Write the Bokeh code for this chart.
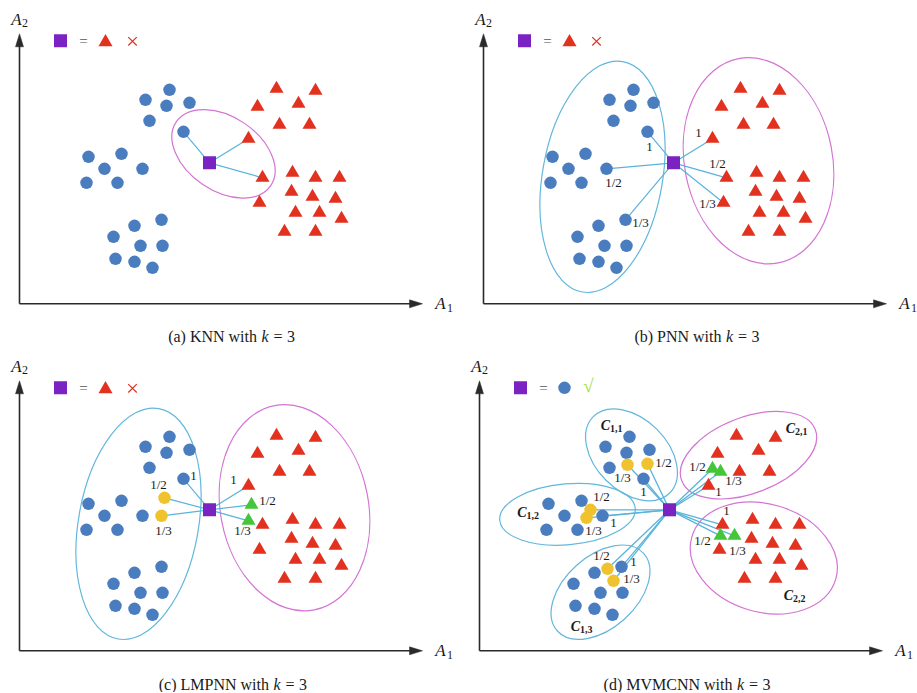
import math
from bokeh.plotting import figure
from bokeh.layouts import row, column
from bokeh.models import Range1d, ColumnDataSource
from bokeh.core.properties import value
from bokeh.embed import file_html
from bokeh.resources import INLINE

# ---------------- data (axis units, shared by all panels) ----------------
blue_x = [150, 126, 147, 170, 130, 164, 69, 102, 85, 123, 67, 98, 142, 115, 94, 121, 143, 96, 115, 133]
blue_y = [214, 204, 198, 201, 183, 172, 147, 150, 135, 135, 121, 121, 84, 78, 67, 58, 58, 45, 42, 36]
red_x = [257, 296, 238, 279, 260, 290, 229, 273, 296, 320, 243, 272, 293, 316, 240, 276, 300, 322, 265, 296]
red_y = [215, 213, 197, 200, 179, 179, 165, 131, 126, 126, 126, 112, 107, 105, 101, 91, 91, 85, 72, 72]
query_x = 190
query_y = 141

# panel (a) KNN
a_blue_nn = [5]
a_red_nn = [6, 10]
# panel (b) PNN
b_blue_nn = [5, 9, 12]
b_red_nn = [6, 10, 14]
b_lab_x = [166, 130, 157, 215, 234, 224]
b_lab_y = [157, 121, 81, 171, 140, 100]
b_lab_text = ["1", "1/2", "1/3", "1", "1/2", "1/3"]
# panel (c) LMPNN
c_blue_nn = [5]
c_red_nn = [6]
c_yellow_x = [145, 142]
c_yellow_y = [153, 135]
c_green_x = [232, 229]
c_green_y = [146, 130]
c_lab_x = [174, 139, 144, 214, 248, 223]
c_lab_y = [175, 166, 120, 171, 150, 120]
c_lab_text = ["1", "1/2", "1/3", "1", "1/2", "1/3"]
# panel (d) MVMCNN
d_blue_nn = [5, 9, 12]
d_red_nn = [6, 10]
d_yellow_x = [148, 168, 111, 107, 128, 134]
d_yellow_y = [186, 187, 141, 133, 82, 70]
d_green_x = [233, 241, 241, 255]
d_green_y = [182, 179, 115, 115]
d_lab_x = [184, 143, 164, 122, 114, 134, 122, 154, 152, 218, 254, 239, 247, 223, 258]
d_lab_y = [188, 173, 159, 154, 120, 128, 95, 89, 72, 184, 170, 159, 140, 110, 100]
d_lab_text = ["1/2", "1/3", "1", "1/2", "1/3", "1", "1/2", "1", "1/3",
              "1/2", "1/3", "1", "1", "1/2", "1/3"]
d_cluster_sub = ["1,1", "1,2", "1,3", "2,1", "2,2"]
d_c_x = [126, 42.5, 96, 311, 309]
d_c_y = [225, 138, 24, 222, 55]
d_sub_x = [130.5, 47, 100.5, 315.5, 313.5]
d_sub_y = [222, 135, 21.5, 219, 52]

# ellipses: (cx, cy, width, height, angle_deg)
a_mag_ell = [(204, 150, 114, 74, -34)]
bc_blue_ell = [(119, 127, 120, 234, -10)]
bc_mag_ell = [(275, 143, 148, 208, 11)]
d_blue_ell = [(152, 196, 108, 72, -45), (88, 136.5, 136, 61, 5), (121, 58.6, 116, 72, 42)]
d_mag_ell = [(269, 195.6, 143, 76, 21), (284.3, 92.8, 150, 108, -16.6)]

captions = ["(a) KNN with", "(b) PNN with", "(c) LMPNN with", "(d) MVMCNN with"]
cap_k_x = [245.5, 246, 257.5, 261]
cap_y = [-32.7, -32.7, -33.7, -33.7]

# ---------------- styles ----------------
BLUE = "#4a7dbf"
RED = "#e2311f"
PURPLE = "#7b22c2"
YELLOW = "#efc22e"
GREEN = "#45c53a"
LINK = "#5ab3db"
ELL_BLUE = "#62b7dc"
MAGENTA = "#d474d4"
AXIS = "#2a2a2a"
TXT = "#1a1a1a"
SERIF = value("Liberation Serif")

AX_X, AX_Y, HEAD, HW = 403, 270, 13, 4


def base_panel(w, h, fx0, fy0):
    p = figure(width=w, height=h, x_range=Range1d(-fx0, w - fx0), y_range=Range1d(fy0 - h, fy0),
               output_backend="svg", toolbar_location=None, x_axis_location=None,
               y_axis_location=None, min_border=0, background_fill_color="white",
               border_fill_color="white")
    p.xgrid.visible = False
    p.ygrid.visible = False
    p.outline_line_color = None
    return p


def draw_axes(p):
    p.segment(x0=[0, 0], y0=[0, 0], x1=[AX_X - HEAD + 2, 0], y1=[0, AX_Y - HEAD + 2],
              line_color=AXIS, line_width=1.6)
    p.patches(xs=[[AX_X - HEAD, AX_X, AX_X - HEAD], [-HW, 0, HW]],
              ys=[[HW, 0, -HW], [AX_Y - HEAD, AX_Y, AX_Y - HEAD]],
              fill_color=AXIS, line_color=AXIS, line_width=0.5)
    p.text(x=[-3, 421], y=[284, 0], text=["A", "A"], text_font=SERIF, text_font_size="17px",
           text_font_style="italic", text_align="center", text_baseline="middle", text_color=TXT)
    p.text(x=[5.5, 430.5], y=[280.5, -3.7], text=["2", "1"], text_font=SERIF, text_font_size="12px",
           text_align="center", text_baseline="middle", text_color=TXT)


def draw_legend(p, correct):
    p.scatter([41], [263], marker="square", size=13, fill_color=PURPLE, line_color=None)
    p.text([64], [262.5], ["="], text_font=SERIF, text_font_size="15px", text_align="center",
           text_baseline="middle", text_color="#555555")
    if correct:
        p.scatter([85], [263], marker="circle", size=12.5, fill_color=BLUE, line_color=None)
        p.text([109], [265], ["\u221a"], text_font=SERIF, text_font_size="19px",
               text_align="center", text_baseline="middle", text_color="#a6dc3c")
    else:
        p.scatter([86], [261.6], marker="triangle", size=14, fill_color=RED, line_color=None)
        p.scatter([113], [262.5], marker="x", size=12, line_color=RED, line_width=1.2)


def draw_ellipses(p, ells, color):
    p.ellipse(x=[e[0] for e in ells], y=[e[1] for e in ells], width=[e[2] for e in ells],
              height=[e[3] for e in ells], angle=[math.radians(e[4]) for e in ells],
              fill_color=None, line_color=color, line_width=1.2)


def draw_links(p, xs, ys, lw=1.2):
    src = ColumnDataSource(dict(x0=[query_x] * len(xs), y0=[query_y] * len(xs), x1=xs, y1=ys))
    p.segment("x0", "y0", "x1", "y1", source=src, line_color=LINK, line_width=lw)


def draw_points(p):
    p.scatter(blue_x, blue_y, marker="circle", size=12.5, fill_color=BLUE, line_color=None)
    p.scatter(red_x, red_y, marker="triangle", size=14, fill_color=RED, line_color=None)


def draw_query(p):
    p.scatter([query_x], [query_y], marker="square", size=13, fill_color=PURPLE, line_color=None)


def draw_labels(p, xs, ys, texts):
    p.text(xs, ys, texts, text_font=SERIF, text_font_size="13px", text_align="center",
           text_baseline="middle", text_color=TXT)


def draw_caption(p, i):
    xk, yc = cap_k_x[i], cap_y[i]
    p.text([xk - 8], [yc], [captions[i]], text_font=SERIF, text_font_size="16px",
           text_align="right", text_baseline="middle", text_color=TXT)
    p.text([xk], [yc], ["k"], text_font=SERIF, text_font_size="16px", text_font_style="italic",
           text_align="center", text_baseline="middle", text_color=TXT)
    p.text([xk + 13, xk + 26], [yc, yc], ["=", "3"], text_font=SERIF, text_font_size="16px",
           text_align="center", text_baseline="middle", text_color=TXT)


def nn_xy(blue_idx, red_idx, extra_x=(), extra_y=()):
    xs = [blue_x[i] for i in blue_idx] + [red_x[i] for i in red_idx] + list(extra_x)
    ys = [blue_y[i] for i in blue_idx] + [red_y[i] for i in red_idx] + list(extra_y)
    return xs, ys


W1, W2 = 458, 459
H1, H2 = 346, 346

# ---------------- panel (a) ----------------
pa = base_panel(W1, H1, 19, 303.3)
draw_axes(pa)
draw_legend(pa, False)
draw_ellipses(pa, a_mag_ell, MAGENTA)
xs, ys = nn_xy(a_blue_nn, a_red_nn)
draw_links(pa, xs, ys)
draw_points(pa)
draw_query(pa)
draw_caption(pa, 0)

# ---------------- panel (b) ----------------
pb = base_panel(W2, H1, 25, 303.3)
draw_axes(pb)
draw_legend(pb, False)
draw_ellipses(pb, bc_blue_ell, ELL_BLUE)
draw_ellipses(pb, bc_mag_ell, MAGENTA)
xs, ys = nn_xy(b_blue_nn, b_red_nn)
draw_links(pb, xs, ys)
draw_points(pb)
draw_query(pb)
draw_labels(pb, b_lab_x, b_lab_y, b_lab_text)
draw_caption(pb, 1)

# ---------------- panel (c) ----------------
pc = base_panel(W1, H2, 19, 304.3)
draw_axes(pc)
draw_legend(pc, False)
draw_ellipses(pc, bc_blue_ell, ELL_BLUE)
draw_ellipses(pc, bc_mag_ell, MAGENTA)
xs, ys = nn_xy(c_blue_nn, c_red_nn, c_yellow_x + c_green_x, c_yellow_y + c_green_y)
draw_links(pc, xs, ys)
draw_points(pc)
pc.scatter(c_yellow_x, c_yellow_y, marker="circle", size=12.5, fill_color=YELLOW, line_color=None)
pc.scatter(c_green_x, c_green_y, marker="triangle", size=14, fill_color=GREEN, line_color=None)
draw_query(pc)
draw_labels(pc, c_lab_x, c_lab_y, c_lab_text)
draw_caption(pc, 2)

# ---------------- panel (d) ----------------
pd_ = base_panel(W2, H2, 21, 304.3)
draw_axes(pd_)
draw_legend(pd_, True)
draw_ellipses(pd_, d_blue_ell, ELL_BLUE)
draw_ellipses(pd_, d_mag_ell, MAGENTA)
xs, ys = nn_xy(d_blue_nn, d_red_nn, d_yellow_x + d_green_x, d_yellow_y + d_green_y)
draw_links(pd_, xs, ys, 1.3)
draw_points(pd_)
pd_.scatter(d_yellow_x, d_yellow_y, marker="circle", size=12.5, fill_color=YELLOW, line_color=None)
pd_.scatter(d_green_x, d_green_y, marker="triangle", size=14, fill_color=GREEN, line_color=None)
draw_query(pd_)
draw_labels(pd_, d_lab_x, d_lab_y, d_lab_text)
pd_.text(d_c_x, d_c_y, ["C"] * len(d_c_x), text_font=SERIF, text_font_size="14px",
         text_font_style="bold italic", text_align="center", text_baseline="middle", text_color=TXT)
pd_.text(d_sub_x, d_sub_y, d_cluster_sub, text_font=SERIF, text_font_size="10px",
         text_font_style="bold", text_align="left", text_baseline="middle", text_color=TXT)
draw_caption(pd_, 3)

layout = column(row(pa, pb), row(pc, pd_))
open("out.html", "w").write(file_html(layout, INLINE))
